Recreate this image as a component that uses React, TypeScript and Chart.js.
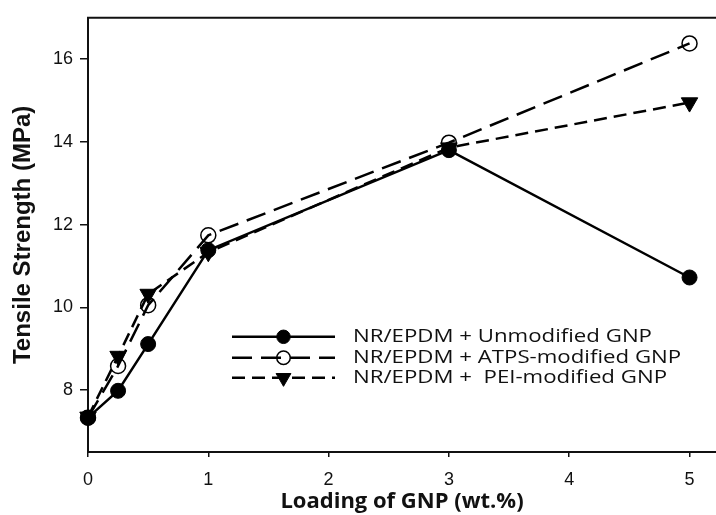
import React, { useEffect, useRef } from 'react';
import { Chart, registerables } from 'chart.js';

Chart.register(...registerables);

const loading = [0, 0.25, 0.5, 1, 3, 5];
const unmodified = [7.33, 7.98, 9.11, 11.38, 13.8, 10.72];
const atps = [7.33, 8.58, 10.05, 11.74, 13.98, 16.38];
const pei = [7.35, 8.82, 10.32, 11.33, 13.86, 14.95];
const seriesLabels = [
  'NR/EPDM + Unmodified GNP',
  'NR/EPDM + ATPS-modified GNP',
  'NR/EPDM +  PEI-modified GNP',
];
const xTicks = [0, 1, 2, 3, 4, 5];
const yTicks = [8, 10, 12, 14, 16];
const xTitle = 'Loading of GNP (wt.%)';
const yTitle = 'Tensile Strength (MPa)';

function drawMarker(ctx: CanvasRenderingContext2D, ds: any, x: number, y: number, r: number) {
  ctx.save();
  ctx.setLineDash([]);
  ctx.lineWidth = ds.pointBorderWidth;
  ctx.strokeStyle = ds.pointBorderColor;
  ctx.fillStyle = ds.pointBackgroundColor;
  ctx.beginPath();
  if (ds.pointStyle === 'triangle') {
    let rad = Math.PI; // pointing down
    ctx.moveTo(x + Math.sin(rad) * r, y - Math.cos(rad) * r);
    rad += (2 * Math.PI) / 3;
    ctx.lineTo(x + Math.sin(rad) * r, y - Math.cos(rad) * r);
    rad += (2 * Math.PI) / 3;
    ctx.lineTo(x + Math.sin(rad) * r, y - Math.cos(rad) * r);
    ctx.closePath();
  } else {
    ctx.arc(x, y, r, 0, Math.PI * 2);
  }
  ctx.fill();
  ctx.stroke();
  ctx.restore();
}

const framePlugin = {
  id: 'frameAndLegend',
  afterDraw(chart: any) {
    const { ctx, chartArea } = chart;
    // top frame line
    ctx.save();
    ctx.strokeStyle = '#111';
    ctx.lineWidth = 2;
    ctx.beginPath();
    ctx.moveTo(chartArea.left - 1, chartArea.top);
    ctx.lineTo(chartArea.right, chartArea.top);
    ctx.stroke();
    ctx.restore();

    // legend
    const lineStart = chartArea.left + 144;
    const lineEnd = chartArea.left + 247;
    const textX = chartArea.left + 265;
    const rowY = [chartArea.top + 319, chartArea.top + 340, chartArea.top + 360];
    ctx.save();
    ctx.font = '19px "Open Sans", sans-serif';
    const w0 = ctx.measureText(seriesLabels[0]).width;
    const sx = 299 / w0;
    chart.data.datasets.forEach((ds: any, i: number) => {
      const y = rowY[i];
      ctx.save();
      ctx.strokeStyle = ds.borderColor;
      ctx.lineWidth = ds.borderWidth;
      ctx.setLineDash(ds.borderDash || []);
      ctx.beginPath();
      ctx.moveTo(lineStart, y);
      ctx.lineTo(lineEnd, y);
      ctx.stroke();
      ctx.restore();
      drawMarker(ctx, ds, (lineStart + lineEnd) / 2, y, ds.pointRadius * 0.9);
      ctx.save();
      ctx.translate(textX, y);
      ctx.scale(sx, 1);
      ctx.fillStyle = '#111';
      ctx.textBaseline = 'middle';
      ctx.textAlign = 'left';
      ctx.font = '19px "Open Sans", sans-serif';
      ctx.fillText(seriesLabels[i], 0, 0);
      ctx.restore();
    });
    ctx.restore();
  },
};

export default function App() {
  const ref = useRef<HTMLCanvasElement | null>(null);
  useEffect(() => {
    if (!ref.current) return;
    const mk = (arr: number[]) => loading.map((x, i) => ({ x, y: arr[i] }));
    const chart = new Chart(ref.current, {
      type: 'line',
      data: {
        datasets: [
          {
            label: seriesLabels[0],
            data: mk(unmodified),
            borderColor: '#000',
            borderWidth: 2.5,
            pointStyle: 'circle',
            pointRadius: 7.5,
            pointBorderWidth: 1,
            pointBorderColor: '#000',
            pointBackgroundColor: '#000',
            clip: false,
          } as any,
          {
            label: seriesLabels[1],
            data: mk(atps),
            borderColor: '#000',
            borderWidth: 2.5,
            borderDash: [20, 9],
            pointStyle: 'circle',
            pointRadius: 7.5,
            pointBorderWidth: 1.5,
            pointBorderColor: '#000',
            pointBackgroundColor: 'rgba(0,0,0,0)',
            clip: false,
          } as any,
          {
            label: seriesLabels[2],
            data: mk(pei),
            borderColor: '#000',
            borderWidth: 2.5,
            borderDash: [13, 7],
            pointStyle: 'triangle',
            rotation: 180,
            pointRotation: 180,
            pointRadius: 9.5,
            pointBorderWidth: 1,
            pointBorderColor: '#000',
            pointBackgroundColor: '#000',
            clip: false,
          } as any,
        ],
      },
      options: {
        animation: false,
        responsive: false,
        layout: { autoPadding: false, padding: { top: 13, right: 0, left: 0, bottom: 0 } },
        plugins: {
          legend: { display: false },
          tooltip: { enabled: false },
        },
        elements: { line: { tension: 0 } },
        scales: {
          x: {
            type: 'linear',
            min: 0,
            max: 5.22,
            afterBuildTicks: (scale: any) => {
              scale.ticks = xTicks.map((v) => ({ value: v }));
            },
            afterFit: (scale: any) => {
              scale.height = 63;
              scale.paddingRight = 0;
              scale.paddingLeft = 0;
            },
            grid: {
              display: true,
              drawOnChartArea: false,
              drawTicks: true,
              tickLength: 5,
              color: '#111',
              lineWidth: 1.5,
            },
            border: { display: true, color: '#111', width: 2 },
            ticks: {
              color: '#111',
              padding: 12,
              maxRotation: 0,
              font: { family: '"Liberation Sans", Arial, sans-serif', size: 18 },
            },
            title: {
              display: true,
              text: xTitle,
              color: '#111',
              padding: { top: 0, bottom: 0 },
              font: { family: '"Open Sans", sans-serif', size: 22, weight: 'bold' },
            },
          },
          y: {
            type: 'linear',
            min: 6.5,
            max: 17,
            afterBuildTicks: (scale: any) => {
              scale.ticks = yTicks.map((v) => ({ value: v }));
            },
            afterFit: (scale: any) => {
              scale.width = 88;
            },
            grid: {
              display: true,
              drawOnChartArea: false,
              drawTicks: true,
              tickLength: 8,
              color: '#111',
              lineWidth: 1.5,
            },
            border: { display: true, color: '#111', width: 2 },
            ticks: {
              color: '#111',
              padding: 7,
              font: { family: '"Liberation Sans", Arial, sans-serif', size: 18 },
            },
            title: {
              display: true,
              text: yTitle,
              color: '#111',
              padding: { top: 9, bottom: 0 },
              font: { family: '"Liberation Sans", Arial, sans-serif', size: 24, weight: 'bold' },
            },
          },
        },
      },
      plugins: [framePlugin],
    } as any);
    return () => chart.destroy();
  }, []);
  return (
    <div style={{ position: 'absolute', left: 0, top: 0, width: 716, height: 515, background: '#fff' }}>
      <canvas ref={ref} width={716} height={515} style={{ display: 'block', width: 716, height: 515 }} />
    </div>
  );
}
